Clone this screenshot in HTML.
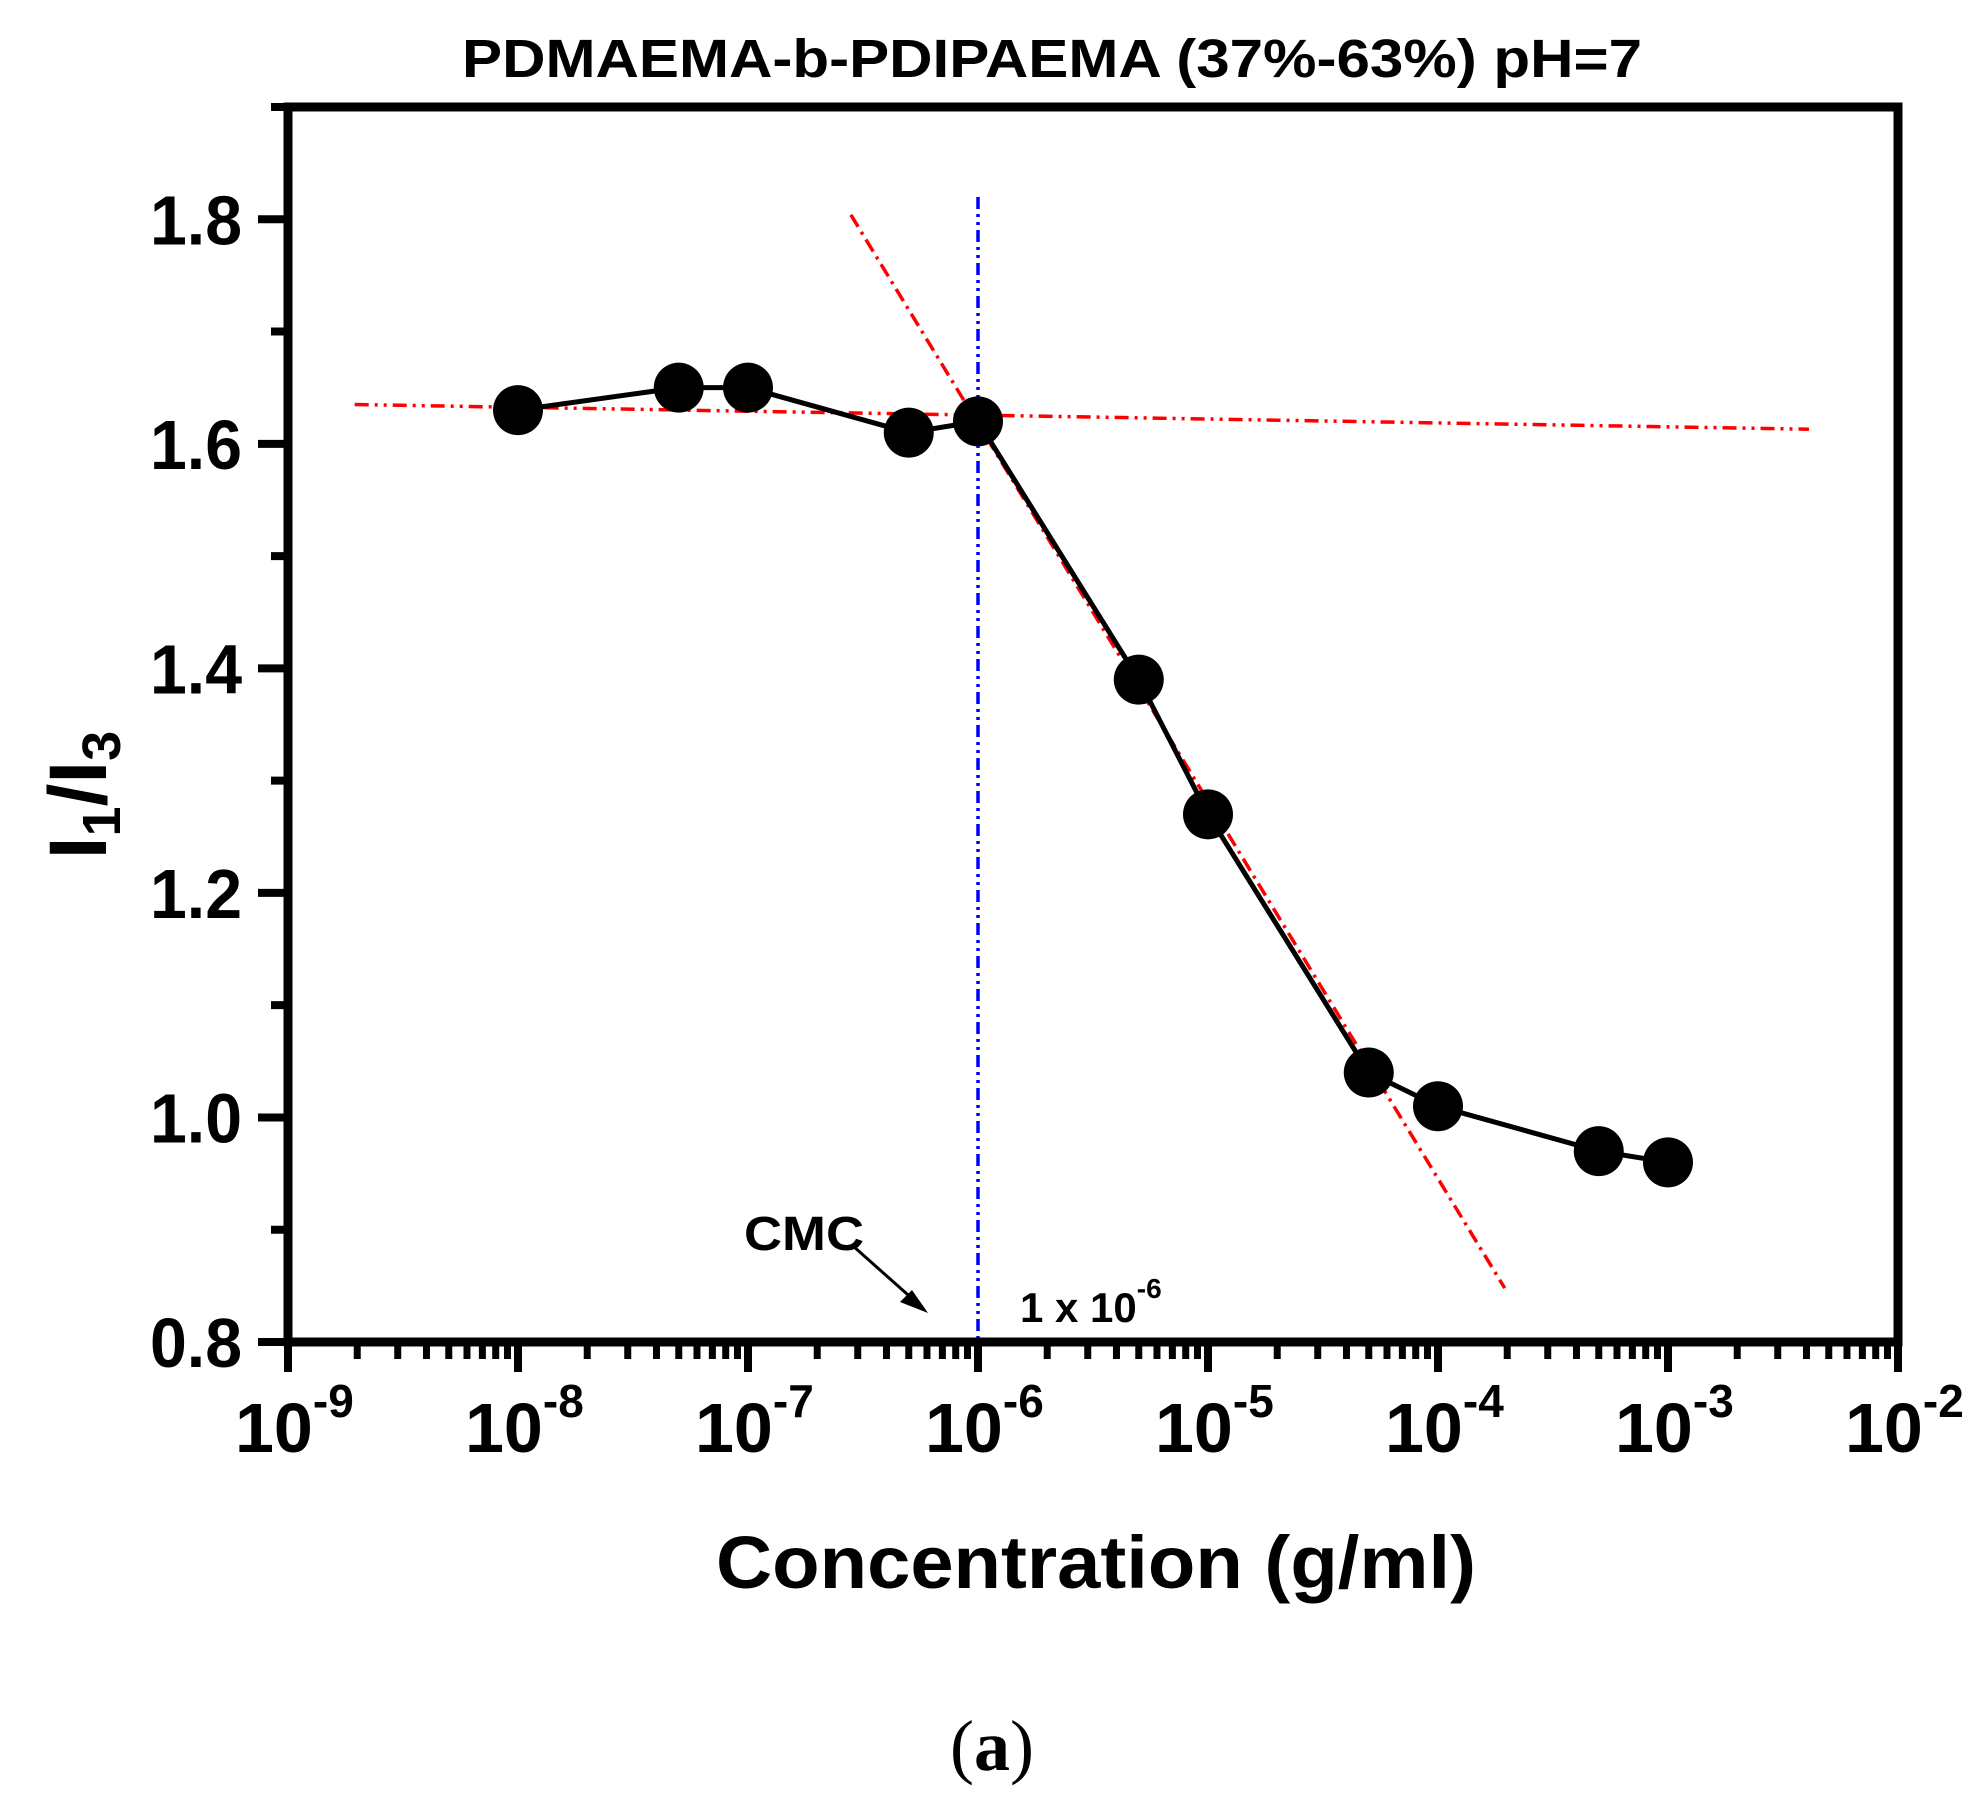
<!DOCTYPE html>
<html><head><meta charset="utf-8"><style>
html,body{margin:0;padding:0;background:#fff;}
svg{display:block;font-family:"Liberation Sans",Arial,sans-serif;}
</style></head><body>
<svg id="chart" width="1982" height="1798" viewBox="0 0 1982 1798" xmlns="http://www.w3.org/2000/svg">
<text x="1052" y="77" font-size="54" font-weight="bold" text-anchor="middle" textLength="1180" lengthAdjust="spacingAndGlyphs">PDMAEMA-b-PDIPAEMA (37%-63%)  pH=7</text>
<g id="grid"></g>
<g id="fits"></g>
<g id="series"></g>
<g id="axes"></g>
<text x="1096" y="1588" font-size="74" font-weight="bold" text-anchor="middle" textLength="760" lengthAdjust="spacingAndGlyphs">Concentration (g/ml)</text>
<text transform="translate(106,795) rotate(-90)" font-size="82" font-weight="bold" text-anchor="middle">I<tspan font-size="54" dy="14">1</tspan><tspan dy="-14">/I</tspan><tspan font-size="54" dy="14">3</tspan></text>
<text x="744" y="1250" font-size="48" font-weight="bold" textLength="120" lengthAdjust="spacingAndGlyphs">CMC</text>
<line x1="853" y1="1246" x2="916" y2="1302" stroke="#000" stroke-width="3"/>
<polygon points="928,1313 900,1302 912,1290" fill="#000"/>
<text x="1020" y="1322" font-size="42" font-weight="bold">1 x 10<tspan font-size="28" dy="-24">-6</tspan></text>
<text x="992" y="1770" font-size="72" font-family="Liberation Serif,serif" text-anchor="middle">(<tspan font-weight="bold">a</tspan>)</text>
</svg>
<script>
const xCats = [1e-8, 5e-8, 1e-7, 5e-7, 1e-6, 5e-6, 1e-5, 5e-5, 1e-4, 5e-4, 1e-3];
const yVals = [1.63, 1.65, 1.65, 1.61, 1.62, 1.39, 1.27, 1.04, 1.01, 0.97, 0.96];
const yTicks = [0.8, 1.0, 1.2, 1.4, 1.6, 1.8];
const yTickLabels = ["0.8", "1.0", "1.2", "1.4", "1.6", "1.8"];
const xDecades = [-9, -8, -7, -6, -5, -4, -3, -2];
const fitFlat = [[1.95e-9, 1.635], [4.1e-3, 1.613]];
const fitSteep = [[2.8e-7, 1.804], [1.95e-4, 0.848]];
const cmcX = 1e-6;

const L=288, R=1898, T=107, B=1342;
const xMin=-9, xMax=-2, yMin=0.8, yMax=1.9;
const xs = v => L + (Math.log10(v)-xMin)/(xMax-xMin)*(R-L);
const ys = v => B - (v-yMin)/(yMax-yMin)*(B-T);
const NS="http://www.w3.org/2000/svg";
function mk(tag, attrs, parent){const e=document.createElementNS(NS,tag);for(const k in attrs)e.setAttribute(k,attrs[k]);document.getElementById(parent).appendChild(e);return e;}

let f1 = mk('line',{x1:xs(fitFlat[0][0]),y1:ys(fitFlat[0][1]),x2:xs(fitFlat[1][0]),y2:ys(fitFlat[1][1]),stroke:'#f00','stroke-width':3.5,'stroke-dasharray':'14 6 3 6 3 6'},'fits');


let f2 = mk('line',{x1:xs(fitSteep[0][0]),y1:ys(fitSteep[0][1]),x2:xs(fitSteep[1][0]),y2:ys(fitSteep[1][1]),stroke:'#f00','stroke-width':3.5,'stroke-dasharray':'14 6 3 6'},'fits');


let cl = mk('line',{x1:xs(cmcX),y1:197,x2:xs(cmcX),y2:B,stroke:'#00f','stroke-width':3.5,'stroke-dasharray':'12 5 3 5 3 5'},'fits');



let pts = xCats.map((x,i)=>xs(x)+','+ys(yVals[i])).join(' ');
let pl = mk('polyline',{points:pts,fill:'none',stroke:'#000','stroke-width':5},'series');


xCats.forEach((x,i)=>{
  let c = mk('circle',{cx:xs(x),cy:ys(yVals[i]),r:25,fill:'#000'},'series');
  
  
});

let fr = mk('rect',{x:L,y:T,width:R-L,height:B-T,fill:'none',stroke:'#000','stroke-width':9},'axes');


for(let v=0.8; v<=1.901; v+=0.1){
  const major = Math.abs(Math.round(v*10)%2)===0;
  let t = mk('line',{x1:L-(major?30:17),y1:ys(v),x2:L,y2:ys(v),stroke:'#000','stroke-width':8},'axes');
  
  
}
yTicks.forEach((v,i)=>{
  let t = mk('text',{x:242,y:ys(v)+25,'font-size':70,'font-weight':'bold','text-anchor':'end',textLength:92,lengthAdjust:'spacingAndGlyphs'},'axes');
  t.textContent = yTickLabels[i];
  
  
});
xDecades.forEach((d,i)=>{
  let t = mk('line',{x1:xs(Math.pow(10,d)),y1:B,x2:xs(Math.pow(10,d)),y2:B+30,stroke:'#000','stroke-width':8},'axes');
  
  
  if(i<xDecades.length-1){
    for(let m=2;m<=9;m++){
      let mt = mk('line',{x1:xs(m*Math.pow(10,d)),y1:B,x2:xs(m*Math.pow(10,d)),y2:B+17,stroke:'#000','stroke-width':7},'axes');
      
      
    }
  }
  const cx = xs(Math.pow(10,d));
  let lb = mk('text',{x:cx-53,y:1452,'font-size':70,'font-weight':'bold'},'axes');
  
  
  const a=document.createElementNS(NS,'tspan'); a.textContent='10'; lb.appendChild(a);
  const b=document.createElementNS(NS,'tspan'); b.setAttribute('font-size','46'); b.setAttribute('dy','-35'); b.textContent=String(d); lb.appendChild(b);
});
</script>
</body></html>
